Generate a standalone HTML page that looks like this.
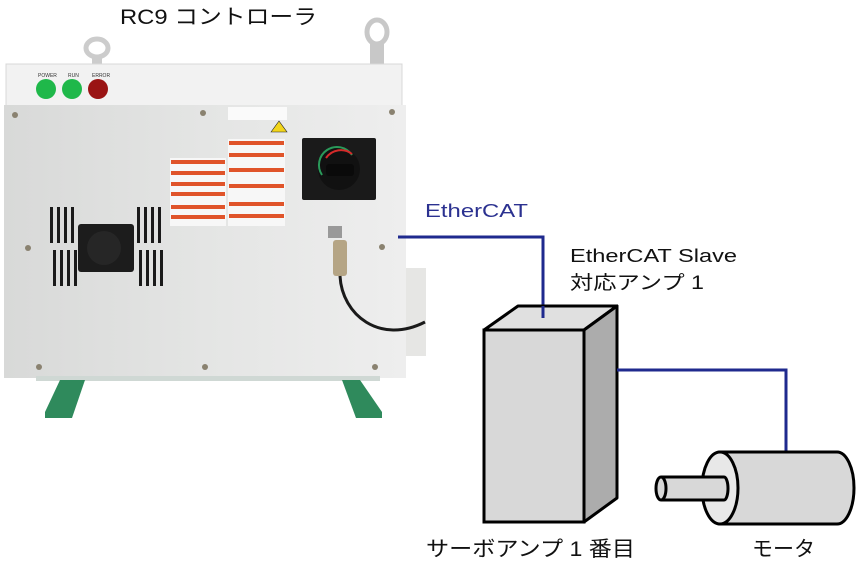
<!DOCTYPE html>
<html><head><meta charset="utf-8"><style>
html,body{margin:0;padding:0;background:#fff;}
svg{display:block;}
text{font-family:"Liberation Sans","Noto Sans CJK JP",sans-serif;}
</style></head><body>
<svg width="857" height="587" viewBox="0 0 857 587" xmlns="http://www.w3.org/2000/svg">
<defs>
<linearGradient id="pan" x1="0" y1="0" x2="1" y2="0">
<stop offset="0" stop-color="#d8d9d8"/><stop offset="0.5" stop-color="#e4e5e4"/><stop offset="1" stop-color="#eeeeee"/>
</linearGradient>
</defs>
<text x="120" y="24" font-size="21" fill="#111" textLength="197" lengthAdjust="spacingAndGlyphs">RC9 コントローラ</text>
<ellipse cx="97" cy="48" rx="11" ry="9" fill="none" stroke="#ccc" stroke-width="5"/>
<rect x="92" y="55" width="10" height="10" fill="#ccc"/>
<ellipse cx="377" cy="32" rx="10" ry="12" fill="none" stroke="#c8c8c8" stroke-width="5"/>
<rect x="370" y="42" width="14" height="22" fill="#c8c8c8"/>
<rect x="392" y="268" width="34" height="88" fill="#e6e6e4"/>
<rect x="6" y="64" width="396" height="42" fill="#f2f2f2" stroke="#d8d8d8"/>
<text x="38" y="77" font-size="5" fill="#333">POWER</text>
<text x="68" y="77" font-size="5" fill="#333">RUN</text>
<text x="92" y="77" font-size="5" fill="#333">ERROR</text>
<circle cx="46" cy="89" r="10" fill="#1fb84a"/>
<circle cx="72" cy="89" r="10" fill="#1fb84a"/>
<circle cx="98" cy="89" r="10" fill="#9a1414"/>
<rect x="4" y="105" width="402" height="273" fill="url(#pan)"/>
<rect x="36" y="376" width="344" height="5" fill="#cfd8d4"/>
<g fill="#8a8270">
<circle cx="15" cy="115" r="3"/><circle cx="203" cy="113" r="3"/><circle cx="392" cy="112" r="3"/>
<circle cx="28" cy="248" r="3"/><circle cx="382" cy="247" r="3"/>
<circle cx="39" cy="367" r="3"/><circle cx="205" cy="367" r="3"/><circle cx="375" cy="367" r="3"/>
</g>
<g fill="#1a1a1a">
<rect x="50" y="207" width="3" height="36"/><rect x="57" y="207" width="3" height="36"/><rect x="64" y="207" width="3" height="36"/><rect x="71" y="207" width="3" height="36"/>
<rect x="53" y="250" width="3" height="36"/><rect x="60" y="250" width="3" height="36"/><rect x="67" y="250" width="3" height="36"/><rect x="74" y="250" width="3" height="36"/>
<rect x="137" y="207" width="3" height="36"/><rect x="144" y="207" width="3" height="36"/><rect x="151" y="207" width="3" height="36"/><rect x="158" y="207" width="3" height="36"/>
<rect x="139" y="250" width="3" height="36"/><rect x="146" y="250" width="3" height="36"/><rect x="153" y="250" width="3" height="36"/><rect x="160" y="250" width="3" height="36"/>
</g>
<rect x="78" y="224" width="56" height="48" rx="3" fill="#1c1c1c"/>
<circle cx="104" cy="248" r="17" fill="#262626"/>
<rect x="228" y="107" width="59" height="13" fill="#fafafa"/>
<polygon points="271,132 279,121 287,132" fill="#f2d51a" stroke="#222" stroke-width="0.6"/>
<rect x="170" y="158" width="56" height="68" fill="#f7f7f7"/>
<rect x="228" y="139" width="57" height="87" fill="#f7f7f7"/>
<g fill="#e0542a">
<rect x="171" y="160" width="54" height="4"/><rect x="171" y="171" width="54" height="4"/><rect x="171" y="182" width="54" height="4"/><rect x="171" y="192" width="54" height="4"/><rect x="171" y="205" width="54" height="4"/><rect x="171" y="215" width="54" height="4"/>
<rect x="229" y="141" width="55" height="4"/><rect x="229" y="153" width="55" height="4"/><rect x="229" y="168" width="55" height="4"/><rect x="229" y="184" width="55" height="4"/><rect x="229" y="202" width="55" height="4"/><rect x="229" y="214" width="55" height="4"/>
</g>
<rect x="302" y="138" width="74" height="62" rx="2" fill="#1a1a1a"/>
<circle cx="339" cy="169" r="21" fill="#111"/>
<path d="M322 175 A18 18 0 0 1 352 155" fill="none" stroke="#2a9a5a" stroke-width="2"/>
<path d="M326 158 A18 18 0 0 1 352 154" fill="none" stroke="#d52a2a" stroke-width="2"/>
<rect x="326" y="164" width="28" height="12" rx="3" fill="#0a0a0a"/>
<rect x="328" y="226" width="14" height="12" fill="#999"/>
<rect x="333" y="240" width="14" height="36" rx="3" fill="#b5a585"/>
<path d="M340 276 C342 315 380 345 425 322" fill="none" stroke="#1a1a1a" stroke-width="3"/>
<polygon points="60,380 85,380 72,418 45,418 45,412" fill="#2f8a5c"/>
<polygon points="342,380 360,380 382,412 382,418 356,418" fill="#2f8a5c"/>
<text x="425" y="217" font-size="18" fill="#2b3190" textLength="103" lengthAdjust="spacingAndGlyphs">EtherCAT</text>
<polyline points="398,237 543,237 543,318" fill="none" stroke="#1f2a8e" stroke-width="3"/>
<text x="570" y="262" font-size="18" fill="#111" textLength="167" lengthAdjust="spacingAndGlyphs">EtherCAT Slave</text>
<text x="570" y="289" font-size="19" fill="#111" textLength="134" lengthAdjust="spacingAndGlyphs">対応アンプ 1</text>
<polygon points="484,330 518,306 617,306 584,330" fill="#e0e0e0" stroke="#000" stroke-width="3" stroke-linejoin="round"/>
<polyline points="543,306 543,318" fill="none" stroke="#1f2a8e" stroke-width="3"/>
<polygon points="584,330 617,306 617,498 584,522" fill="#acacac" stroke="#000" stroke-width="3" stroke-linejoin="round"/>
<rect x="484" y="330" width="100" height="192" fill="#d8d8d8" stroke="#000" stroke-width="3"/>
<polyline points="617,370 786,370 786,453" fill="none" stroke="#1f2a8e" stroke-width="3"/>
<path d="M720,452 L837,452 A17,36 0 0 1 837,524 L720,524 Z" fill="#d8d8d8" stroke="#000" stroke-width="3"/>
<ellipse cx="720" cy="488" rx="18" ry="36" fill="#e8e8e8" stroke="#000" stroke-width="3"/>
<path d="M661,477 L724,477 A4,11.5 0 0 1 724,500 L661,500" fill="#d8d8d8" stroke="#000" stroke-width="3"/>
<ellipse cx="661" cy="488.5" rx="5" ry="11.5" fill="#d8d8d8" stroke="#000" stroke-width="3"/>
<text x="426" y="556" font-size="21" fill="#111" textLength="209" lengthAdjust="spacingAndGlyphs">サーボアンプ 1 番目</text>
<text x="752" y="556" font-size="21" fill="#111" textLength="63" lengthAdjust="spacingAndGlyphs">モータ</text>
</svg>
</body></html>
